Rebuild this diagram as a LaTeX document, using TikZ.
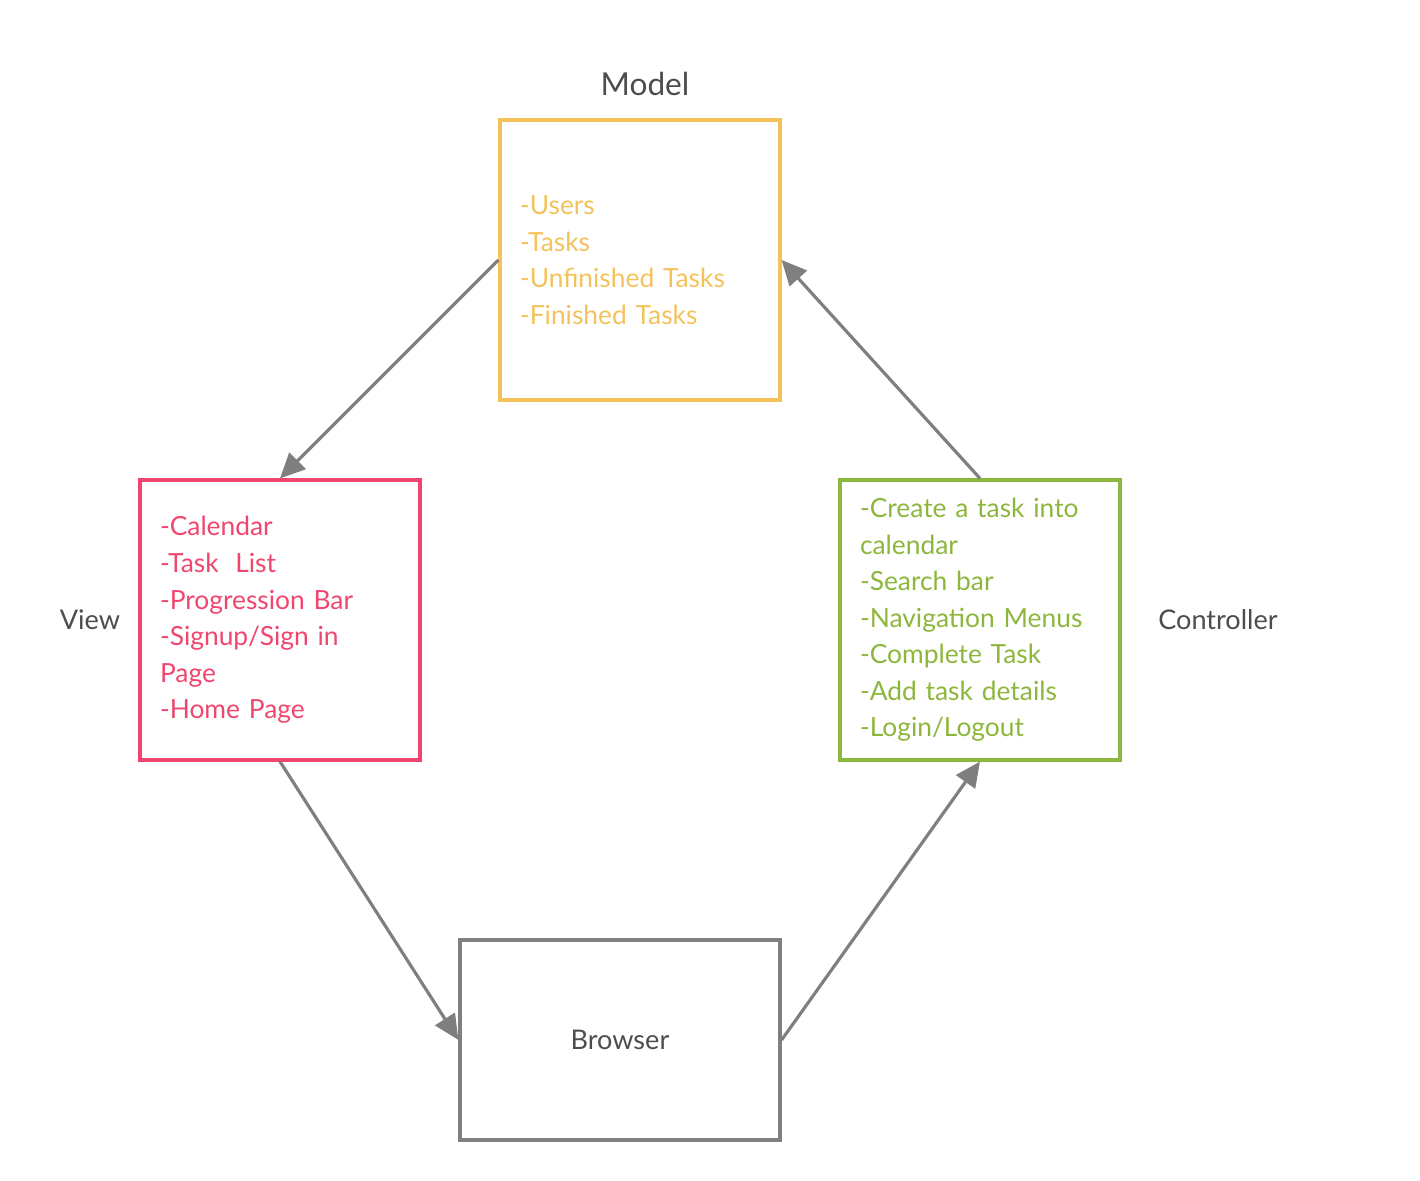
\documentclass[tikz,border=0pt]{standalone}
\usepackage{fontspec}
\setmainfont{Lato}
\usepackage{xcolor}
\usetikzlibrary{arrows.meta}
\definecolor{mdlyellow}{HTML}{F4C25A}
\definecolor{viewpink}{HTML}{F0466E}
\definecolor{ctrlgreen}{HTML}{8DB63C}
\definecolor{linegray}{HTML}{7F7F7F}
\definecolor{labelgray}{HTML}{4D4D4D}

\begin{document}
\begin{tikzpicture}[
    block/.style={draw, line width=1.8pt, minimum width=5.6cm, minimum height=5.6cm, text width=4.8cm, inner xsep=0.4cm, align=left, font=\fontsize{15}{20.8}\selectfont},
    tag/.style={font=\fontsize{15.4}{20.8}\selectfont, color=labelgray},
    flow/.style={-{Triangle[length=0.5cm, width=0.46cm]}, line width=1.8pt, color=linegray},
]
    \useasboundingbox (0, 0) rectangle (28.4, 23.6);

    % Model
    \node[block, draw=mdlyellow, text=mdlyellow] (model) at (12.8, 18.4)
        {-Users\\-Tasks\\-Unfinished Tasks\\-Finished Tasks};
    \node[tag, font=\fontsize{18}{22}\selectfont] (modeltag) at (12.9, 21.92) {Model};

    % View
    \node[block, draw=viewpink, text=viewpink] (view) at (5.6, 11.2)
        {-Calendar\\-Task\hspace{0.3em} List\\-Progression Bar\\-Signup/Sign in\\Page\\-Home Page};
    \node[tag] (viewtag) at (1.8, 11.2) {View};

    % Controller
    \node[block, draw=ctrlgreen, text=ctrlgreen] (ctrl) at (19.6, 11.2)
        {-Create a task into\\calendar\\-Search bar\\-Navigation Menus\\-Complete Task\\-Add task details\\-Login/Logout};
    \node[tag] (ctrltag) at (24.36, 11.2) {Controller};

    % Browser
    \node[block, draw=linegray, minimum width=6.4cm, minimum height=4cm, text width=, align=center, text=labelgray, font=\fontsize{15.4}{20.8}\selectfont] (brw) at (12.4, 2.8) {Browser};

    % Arrows
    \draw[flow] (model.west) -- (view.north);
    \draw[flow] (view.south) -- (brw.west);
    \draw[flow] (brw.east) -- (ctrl.south);
    \draw[flow] (ctrl.north) -- (model.east);
\end{tikzpicture}
\end{document}
